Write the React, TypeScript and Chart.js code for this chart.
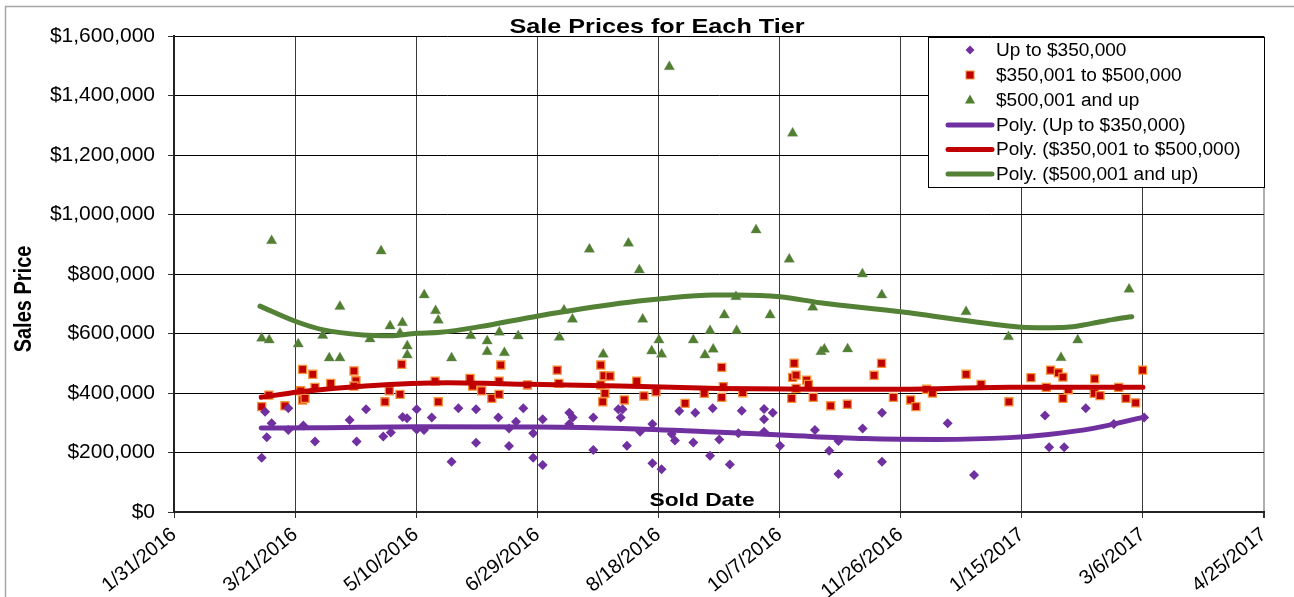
import { useEffect, useRef } from 'react';
import { Chart, registerables } from 'chart.js';

Chart.register(...registerables);

// x values are days since 1/31/2016
const xTickDays = [0, 50, 100, 150, 200, 250, 300, 350, 400, 450];
const xTickLabels = ['1/31/2016', '3/21/2016', '5/10/2016', '6/29/2016', '8/18/2016', '10/7/2016', '11/26/2016', '1/15/2017', '3/6/2017', '4/25/2017'];
const yTickValues = [0, 200000, 400000, 600000, 800000, 1000000, 1200000, 1400000, 1600000];

const chartTitle = 'Sale Prices for Each Tier';
const xAxisTitle = 'Sold Date';
const yAxisTitle = 'Sales Price';
const legendLabels = ['Up to $350,000', '$350,001 to $500,000', '$500,001 and up', 'Poly. (Up to $350,000)', 'Poly. ($350,001 to $500,000)', 'Poly. ($500,001 and up)'];

// Tier 1: Up to $350,000
const tier1Days = [36.2, 37.6, 38.3, 40.3, 47.2, 47.2, 53.4, 58.2, 72.5, 75.4, 79.3, 86.4, 89.5, 94.4, 96.2, 100.2, 100.2, 103.2, 106.4, 114.6, 117.4, 124.7, 124.7, 133.9, 138.3, 138.3, 141.2, 144.2, 148.3, 148.3, 152.2, 152.2, 163.2, 164.6, 163.2, 173.1, 173.1, 183.4, 185.2, 184.4, 187, 192.4, 197.5, 197.5, 201.3, 205.5, 206.8, 208.6, 214.4, 215.2, 221.3, 222.4, 225.1, 229.5, 233, 234.4, 243.6, 243.6, 243.6, 247.2, 250.2, 264.6, 270.5, 274.3, 274.3, 284.3, 292.3, 292.3, 319.4, 330.3, 359.6, 361.3, 367.5, 376.4, 388, 400.5];
const tier1Prices = [182500, 337000, 251000, 298000, 348500, 275500, 291000, 237000, 309000, 237000, 345000, 254000, 267000, 319000, 315000, 345000, 277000, 276000, 318000, 169000, 349000, 345000, 233000, 318000, 281000, 222000, 303000, 349000, 265000, 182500, 311500, 158000, 333500, 318000, 296000, 318000, 208000, 345000, 345000, 318000, 223000, 270000, 296000, 164000, 143500, 262000, 240000, 339500, 234000, 333500, 189000, 349000, 244000, 160000, 264500, 340500, 346000, 311500, 270000, 333500, 223000, 275500, 206000, 127500, 238500, 281000, 333500, 169000, 298000, 124000, 324000, 217500, 217500, 348500, 296000, 318000];

// Tier 2: $350,001 to $500,000
const tier2Days = [36.2, 39.2, 45.8, 53.1, 57.3, 52.3, 53.1, 54.1, 58.2, 64.7, 74.3, 75.1, 74.3, 87.1, 88.9, 93.3, 94, 107.8, 109.1, 122.2, 123.3, 127, 131.2, 134.2, 134.2, 134.9, 145.9, 158.2, 158.9, 176.2, 176.2, 177.5, 180, 177.9, 177, 185.9, 191, 194, 199, 211, 218.9, 226.1, 226.1, 226.8, 234.8, 255, 256, 255.4, 256.8, 256.8, 261.2, 261.9, 263.9, 271.1, 278, 289, 292.1, 297, 304.1, 306.3, 310.7, 313.1, 327, 333.2, 344.7, 353.8, 361.9, 365.1, 367, 360.1, 367, 369.2, 380.1, 379.9, 382.3, 390, 393, 397, 399.9];
const tier2Prices = [354000, 393000, 357000, 479500, 463000, 407500, 376500, 382000, 419000, 432500, 474000, 441000, 423500, 370500, 407500, 395500, 496500, 440000, 370500, 449000, 423500, 407500, 382000, 395500, 440000, 494000, 427000, 477000, 432500, 494000, 427000, 458000, 457000, 399000, 370500, 376500, 440000, 390000, 404000, 365000, 399000, 486000, 385500, 421000, 401000, 382000, 500000, 452500, 460000, 415500, 443500, 429000, 385500, 357000, 362000, 459500, 500000, 385500, 376500, 354000, 412500, 400000, 463000, 429000, 370500, 451500, 477000, 468000, 453500, 419000, 382000, 411000, 447500, 399000, 391000, 419000, 382000, 367000, 477000];

// Tier 3: $500,001 and up
const tier3Days = [36.2, 39.3, 40.3, 51.3, 61.4, 68.5, 64.1, 68.5, 80.9, 85.5, 89.2, 94.3, 93.3, 96.3, 96.3, 103.3, 108, 109.1, 114.6, 122.5, 129.3, 129.3, 134.3, 136.4, 142.1, 159.1, 161, 164.5, 171.5, 177.2, 187.6, 192.1, 193.5, 197.2, 200.2, 201.3, 204.5, 214.4, 219.2, 222.6, 221.3, 227.2, 232, 232.3, 240.3, 246.1, 254, 255.4, 263.7, 267.1, 268.5, 278.1, 284.2, 292.2, 327, 344.5, 366.2, 373.1, 394.3];
const tier3Prices = [584000, 578000, 912000, 564500, 593000, 690500, 517500, 517500, 581500, 877000, 625000, 636000, 600500, 558000, 527500, 729500, 676500, 644500, 517500, 592500, 574500, 539000, 604000, 535500, 591500, 587000, 678000, 647500, 883000, 530000, 903000, 813500, 647500, 541000, 578000, 530000, 1496500, 578000, 527500, 547000, 609500, 662000, 723500, 609500, 948000, 662000, 849500, 1273000, 688000, 539000, 547000, 548000, 800000, 729500, 673000, 589000, 518500, 578000, 748500];

// Polynomial trend lines
const trend1Days = [36, 60, 100, 150, 185, 223, 255, 285, 315, 345, 360, 380, 400.5];
const trend1Prices = [282000, 283000, 286500, 285500, 281000, 269000, 257000, 247000, 244000, 250000, 260000, 282000, 319000];
const trend2Days = [36, 52, 79, 113, 147, 184, 225, 266, 300, 345, 400];
const trend2Prices = [385500, 404000, 423500, 434500, 429000, 423500, 415500, 412500, 412500, 419000, 419000];
const trend3Days = [35.5, 50.6, 61.7, 78, 89, 100, 110, 126.3, 150.4, 184.1, 200.2, 222.6, 232.3, 250.2, 266.7, 300, 341, 350.2, 359, 368.5, 375.4, 381, 388, 395.4];
const trend3Prices = [692000, 639500, 612000, 595000, 592500, 600500, 604000, 623000, 659000, 701500, 716000, 729500, 729500, 723500, 703500, 673000, 628500, 621000, 619500, 621000, 628500, 637000, 647500, 656500];

const PURPLE = '#7030A0';
const RED = '#C00000';
const RED_EDGE = '#F7913A';
const GREEN = '#4F7F2F';
const GREEN_LINE = '#538135';
const FONT = '"Liberation Sans", Arial, sans-serif';

const pts = (xs: number[], ys: number[]) => xs.map((x, i) => ({ x, y: ys[i] }));
const money = (v: number) => '$' + String(v).replace(/\B(?=(\d{3})+(?!\d))/g, ',');

function drawText(ctx: CanvasRenderingContext2D, text: string, x: number, y: number, font: string, sx: number, align: CanvasTextAlign, baseline: CanvasTextBaseline) {
  ctx.save();
  ctx.font = font;
  ctx.fillStyle = '#000';
  ctx.textAlign = align;
  ctx.textBaseline = baseline;
  ctx.translate(x, y);
  ctx.scale(sx, 1);
  ctx.fillText(text, 0, 0);
  ctx.restore();
}

const overlayPlugin = {
  id: 'overlay',
  afterDraw(chart: any) {
    const ctx: CanvasRenderingContext2D = chart.ctx;
    ctx.save();
    // outer chart border
    ctx.strokeStyle = '#a6a6a6';
    ctx.lineWidth = 1.5;
    ctx.beginPath();
    ctx.moveTo(5.5, 600);
    ctx.lineTo(5.5, 6.5);
    ctx.lineTo(1300, 6.5);
    ctx.stroke();

    // title
    drawText(ctx, chartTitle, 657, 33, `bold 21px ${FONT}`, 1.2, 'center', 'alphabetic');
    // x axis title (inside the plot area)
    drawText(ctx, xAxisTitle, 702, 506, `bold 19px ${FONT}`, 1.2, 'center', 'alphabetic');
    // y axis title
    ctx.save();
    ctx.translate(25, 299);
    ctx.rotate(-Math.PI / 2);
    ctx.scale(1, 1.15);
    ctx.font = `bold 20px ${FONT}`;
    ctx.fillStyle = '#000';
    ctx.textAlign = 'center';
    ctx.textBaseline = 'middle';
    ctx.fillText(yAxisTitle, 0, 0);
    ctx.restore();

    // legend
    const lx = 928, ly = 37, lw = 336, lh = 150;
    ctx.fillStyle = '#fff';
    ctx.fillRect(lx, ly, lw, lh);
    ctx.strokeStyle = '#000';
    ctx.lineWidth = 1;
    ctx.strokeRect(lx + 0.5, ly + 0.5, lw, lh);
    const rows = [50, 75, 100, 125, 149.5, 174];
    const mx = 970;
    // diamond
    ctx.fillStyle = PURPLE;
    ctx.beginPath();
    ctx.moveTo(mx - 4.5, rows[0]);
    ctx.lineTo(mx, rows[0] - 4.5);
    ctx.lineTo(mx + 4.5, rows[0]);
    ctx.lineTo(mx, rows[0] + 4.5);
    ctx.closePath();
    ctx.fill();
    // square
    ctx.fillStyle = RED;
    ctx.fillRect(mx - 4, rows[1] - 4, 8, 8);
    ctx.strokeStyle = RED_EDGE;
    ctx.strokeRect(mx - 4, rows[1] - 4, 8, 8);
    // triangle
    ctx.fillStyle = GREEN;
    ctx.beginPath();
    ctx.moveTo(mx, rows[2] - 5.5);
    ctx.lineTo(mx + 5, rows[2] + 3.5);
    ctx.lineTo(mx - 5, rows[2] + 3.5);
    ctx.closePath();
    ctx.fill();
    // line samples
    const lineColors = [PURPLE, RED, GREEN_LINE];
    ctx.lineCap = 'round';
    ctx.lineWidth = 5;
    for (let i = 0; i < 3; i++) {
      ctx.strokeStyle = lineColors[i];
      ctx.beginPath();
      ctx.moveTo(948, rows[3 + i]);
      ctx.lineTo(992, rows[3 + i]);
      ctx.stroke();
    }
    legendLabels.forEach((t, i) => {
      drawText(ctx, t, 996, rows[i] + 1, `18px ${FONT}`, 1.06, 'left', 'middle');
    });
    ctx.restore();
  },
};

export default function App() {
  const ref = useRef<HTMLCanvasElement | null>(null);

  useEffect(() => {
    document.body.style.margin = '0';
    const canvas = ref.current;
    if (!canvas) return;
    const lastIdx = xTickDays.length - 1;
    const trend = (label: string, xs: number[], ys: number[], color: string) => ({
      label,
      data: pts(xs, ys),
      showLine: true,
      borderColor: color,
      borderWidth: 5,
      borderCapStyle: 'round',
      borderJoinStyle: 'round',
      pointRadius: 0,
      tension: 0.4,
      cubicInterpolationMode: 'monotone',
      order: 0,
    });
    const chart = new Chart(canvas, {
      type: 'scatter',
      data: {
        datasets: [
          trend(legendLabels[3], trend1Days, trend1Prices, PURPLE),
          trend(legendLabels[4], trend2Days, trend2Prices, RED),
          trend(legendLabels[5], trend3Days, trend3Prices, GREEN_LINE),
          {
            label: legendLabels[0],
            data: pts(tier1Days, tier1Prices),
            pointStyle: 'rectRot',
            pointRadius: 5,
            backgroundColor: PURPLE,
            borderColor: PURPLE,
            borderWidth: 0,
            order: 1,
          },
          {
            label: legendLabels[1],
            data: pts(tier2Days, tier2Prices),
            pointStyle: 'rect',
            pointRadius: 5.7,
            backgroundColor: RED,
            borderColor: RED_EDGE,
            borderWidth: 1.3,
            order: 2,
          },
          {
            label: legendLabels[2],
            data: pts(tier3Days, tier3Prices),
            pointStyle: 'triangle',
            pointRadius: 6,
            backgroundColor: GREEN,
            borderColor: 'rgba(120,140,110,0.6)',
            borderWidth: 0.6,
            order: 3,
          },
        ],
      },
      options: {
        responsive: false,
        animation: false,
        events: [],
        layout: { padding: { left: 0, right: 30, top: 36, bottom: 0 } },
        plugins: {
          legend: { display: false },
          tooltip: { enabled: false },
          title: { display: false },
        },
        scales: {
          x: {
            type: 'linear',
            min: xTickDays[0],
            max: xTickDays[lastIdx],
            afterFit: (s: any) => { s.height = 85; },
            afterBuildTicks: (s: any) => { s.ticks = xTickDays.map((v) => ({ value: v })); },
            ticks: {
              stepSize: 50,
              autoSkip: false,
              minRotation: 39,
              maxRotation: 39,
              padding: 5,
              color: '#000',
              font: { family: FONT, size: 20 },
              callback: (v: any) => {
                const i = xTickDays.indexOf(Number(v));
                return i >= 0 ? xTickLabels[i] : '';
              },
            },
            grid: {
              color: (c: any) => (c.index === lastIdx ? '#b0b0b0' : '#3a3a3a'),
              lineWidth: (c: any) => (c.index === lastIdx ? 2 : 1),
              tickColor: '#333',
              tickLength: 6,
            },
            border: { color: '#222', width: 2 },
          },
          y: {
            min: 0,
            max: yTickValues[yTickValues.length - 1],
            afterFit: (s: any) => { s.width = 174; },
            afterBuildTicks: (s: any) => { s.ticks = yTickValues.map((v) => ({ value: v })); },
            ticks: {
              stepSize: 200000,
              padding: 13,
              color: '#000',
              font: { family: FONT, size: 21 },
              callback: (v: any) => money(Number(v)),
            },
            grid: {
              color: '#000',
              lineWidth: 1,
              tickColor: '#333',
              tickLength: 6,
            },
            border: { color: '#222', width: 2 },
          },
        },
      },
      plugins: [overlayPlugin],
    } as any);
    return () => chart.destroy();
  }, []);

  return (
    <div style={{ width: 1294, height: 597, background: '#fff' }}>
      <canvas ref={ref} width={1294} height={597} style={{ display: 'block', width: 1294, height: 597 }} />
    </div>
  );
}
